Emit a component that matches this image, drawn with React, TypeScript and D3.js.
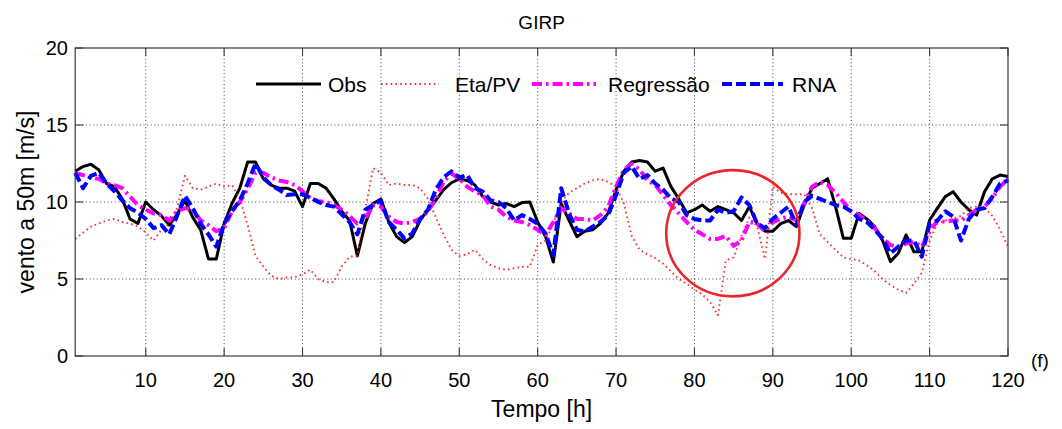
import React from "react";
import * as d3 from "d3";

const hours: number[] = Array.from({ length: 120 }, (_, i) => i + 1);

const obs: number[] = [
  12.0, 12.3, 12.45, 12.1, 11.2, 11.0, 10.2, 8.9, 8.6, 10.0,
  9.5, 9.1, 8.5, 9.2, 10.1, 9.0, 8.2, 6.3, 6.3, 8.6,
  9.9, 10.9, 12.6, 12.6, 11.5, 11.1, 10.9, 10.9, 10.7, 9.7,
  11.2, 11.2, 10.9, 10.2, 9.4, 8.8, 6.5, 8.6, 9.9, 10.2,
  8.7, 7.75, 7.36, 7.75, 8.8, 9.5, 10.1, 10.8, 11.25, 11.5,
  11.4, 11.1, 10.35, 10.0, 9.8, 9.9, 9.7, 9.96, 10.0, 8.7,
  7.75, 6.1, 9.9, 8.8, 7.75, 8.1, 8.2, 8.6, 9.3, 10.8,
  12.0, 12.6, 12.7, 12.6, 12.0, 12.2, 11.0, 10.2, 9.3, 9.5,
  9.8, 9.4, 9.7, 9.5, 9.3, 8.8, 9.7, 8.6, 8.1, 8.1,
  8.6, 8.8, 8.4, 9.8, 10.9, 11.2, 11.5, 9.7, 7.64, 7.64,
  9.26, 8.9, 8.4, 7.5, 6.13, 6.67, 7.86, 6.77, 6.77, 8.83,
  9.6, 10.35, 10.67, 10.0, 9.5, 9.15, 10.67, 11.5, 11.75, 11.65,
];

const etaPV: number[] = [
  7.6, 8.0, 8.4, 8.6, 8.8, 8.9, 8.7, 8.6, 8.4, 8.0,
  7.5, 8.2, 8.6, 9.6, 11.7, 10.9, 10.8, 11.0, 11.2, 11.0,
  11.1, 10.2, 8.5, 6.5, 5.8, 5.2, 5.0, 5.1, 5.1, 5.3,
  5.6, 5.0, 4.8, 4.8, 5.8, 6.45, 6.5, 9.5, 12.2, 11.9,
  11.1, 11.2, 11.1, 11.1, 10.9, 10.2, 9.0, 7.9, 6.9, 6.5,
  6.6, 6.9, 6.3, 5.9, 5.7, 5.6, 5.7, 5.8, 5.8, 7.2,
  7.5, 8.6, 10.0, 10.6, 10.9, 11.2, 11.4, 11.5, 11.3, 11.0,
  9.9, 7.8, 6.9, 6.6, 6.35, 6.0, 5.5, 5.0, 4.7, 4.3,
  4.0, 3.5, 2.66, 6.2, 6.4, 7.8, 9.0, 8.4, 6.3, 11.0,
  10.6, 10.5, 10.5, 10.5, 9.6, 7.9, 7.4, 6.9, 6.4, 6.3,
  6.2, 5.9, 5.5, 5.0, 4.6, 4.3, 4.1, 4.7, 5.4, 7.5,
  8.6, 8.8, 8.9, 9.1, 9.6, 9.7, 9.6, 9.1, 8.2, 7.1,
];

const regressao: number[] = [
  11.86, 11.75, 11.6, 11.5, 11.2, 11.1, 10.9, 10.35, 9.8, 9.5,
  9.26, 9.15, 8.8, 9.4, 9.6, 9.5, 8.8, 8.5, 8.1, 8.3,
  9.4, 10.0, 10.85, 11.9, 11.9, 11.6, 11.4, 11.3, 11.1, 10.7,
  10.24, 10.05, 10.0, 9.8, 9.5, 9.1, 8.6, 8.9, 9.8, 9.7,
  9.05, 8.7, 8.6, 8.7, 8.9, 9.4, 10.24, 11.3, 11.86, 11.5,
  11.0, 10.67, 10.45, 9.7, 9.5, 9.05, 8.8, 8.7, 8.5, 8.2,
  7.86, 8.7, 9.6, 9.26, 8.9, 8.9, 8.8, 9.15, 9.7, 11.0,
  12.1, 12.5, 12.1, 11.4, 11.1, 10.45, 9.8, 9.26, 8.7, 8.2,
  7.9, 7.6, 7.6, 7.8, 7.15, 7.5, 8.7, 8.6, 8.1, 8.7,
  8.9, 9.05, 8.8, 9.9, 11.0, 11.3, 11.1, 10.6, 10.0, 9.4,
  9.15, 8.8, 8.3, 7.64, 7.2, 7.1, 7.3, 7.4, 7.1, 8.07,
  8.8, 8.7, 8.8, 8.8, 9.15, 9.5, 9.7, 10.24, 11.0, 11.5,
];

const rna: number[] = [
  11.9, 10.9, 11.7, 11.9, 11.2, 10.7, 10.1, 9.6, 9.3, 8.9,
  8.3, 8.5, 7.9, 9.1, 10.4, 9.6, 8.6, 7.9, 7.1, 8.6,
  9.4, 10.1, 11.2, 12.5, 11.6, 11.1, 10.8, 10.45, 10.5, 10.5,
  10.3, 10.0, 9.8, 9.7, 9.2, 8.7, 7.9, 9.5, 9.8, 10.1,
  8.7, 8.2, 7.64, 7.96, 8.9, 9.5, 10.8, 11.6, 12.0, 11.6,
  11.75, 10.9, 10.67, 10.1, 10.0, 9.6, 8.8, 9.15, 8.9, 8.6,
  7.96, 6.56, 10.9, 9.26, 8.2, 8.07, 8.4, 8.7, 9.15, 10.45,
  11.9, 12.3, 11.5, 11.75, 11.2, 10.8, 10.24, 10.0, 9.15, 8.9,
  8.8, 8.8, 9.5, 9.3, 9.4, 10.3, 9.8, 8.6, 8.3, 8.9,
  9.3, 9.7, 8.5, 10.0, 10.4, 10.2, 10.0, 9.8, 9.7, 9.4,
  8.9, 8.7, 8.2, 7.64, 6.67, 7.1, 7.5, 7.5, 6.45, 8.6,
  8.8, 9.4, 9.05, 7.5, 8.9, 9.5, 9.6, 10.35, 11.2, 11.4,
];

const xTicks: number[] = [10, 20, 30, 40, 50, 60, 70, 80, 90, 100, 110, 120];
const yTicks: number[] = [0, 5, 10, 15, 20];
const legendLabels: string[] = ["Obs", "Eta/PV", "Regressão", "RNA"];

// highlighted region (hours, m/s)
const circleCenter: number[] = [84.9, 7.97];
const circleRadius: number[] = [8.5, 4.1];

const W = 1062;
const H = 429;
const FONT = "'Liberation Sans', Arial, Helvetica, sans-serif";

export default function App() {
  const x = d3.scaleLinear().domain([1, 120]).range([75.2, 1008]);
  const y = d3.scaleLinear().domain([0, 20]).range([356, 48]);
  const left = x.range()[0];
  const right = x.range()[1];
  const top = y.range()[1];
  const bottom = y.range()[0];

  const line = d3
    .line<number>()
    .x((_, i) => x(hours[i]))
    .y((d) => y(d));

  const series = [
    { data: obs, color: "#000000", width: 3, dash: undefined as string | undefined, opacity: 1 },
    { data: etaPV, color: "#ff1a1a", width: 1.9, dash: "1.6,3.2", opacity: 0.9 },
    { data: regressao, color: "#ff00ff", width: 4, dash: "10,4,2.5,4", opacity: 1 },
    { data: rna, color: "#0000ff", width: 4, dash: "10,4", opacity: 1 },
  ];

  const legendX = [256, 381, 532, 722];
  const legendLineLen = [65, 58, 64, 61];
  const legendTextGap = [7, 16, 12, 9];
  const legendY = 84;

  const tickLen = 8;

  return (
    <svg
      width={W}
      height={H}
      style={{ position: "absolute", left: 0, top: 0, display: "block", background: "#fff" }}
      fontFamily={FONT}
    >
      <rect x={0} y={0} width={W} height={H} fill="#fff" />
      {/* grid */}
      {xTicks
        .filter((t) => t < 120)
        .map((t) => (
          <line
            key={"gx" + t}
            x1={x(t)}
            x2={x(t)}
            y1={top}
            y2={bottom}
            stroke="#000"
            strokeWidth={0.9}
            strokeDasharray="1,2.6"
            opacity={0.8}
          />
        ))}
      {yTicks
        .filter((t) => t > 0 && t < 20)
        .map((t) => (
          <line
            key={"gy" + t}
            x1={left}
            x2={right}
            y1={y(t)}
            y2={y(t)}
            stroke="#000"
            strokeWidth={0.9}
            strokeDasharray="1,2.6"
            opacity={0.8}
          />
        ))}

      {/* series */}
      {series.map((s, i) => (
        <path
          key={"s" + i}
          d={line(s.data) || ""}
          fill="none"
          stroke={s.color}
          strokeWidth={s.width}
          strokeDasharray={s.dash}
          strokeLinejoin="round"
          opacity={s.opacity}
        />
      ))}

      {/* highlight ellipse */}
      <ellipse
        cx={x(circleCenter[0])}
        cy={y(circleCenter[1])}
        rx={x(circleCenter[0] + circleRadius[0]) - x(circleCenter[0])}
        ry={y(circleCenter[1] - circleRadius[1]) - y(circleCenter[1])}
        fill="none"
        stroke="#e8262b"
        strokeWidth={2.6}
      />

      {/* box */}
      <rect
        x={left}
        y={top}
        width={right - left}
        height={bottom - top}
        fill="none"
        stroke="#3a3a3a"
        strokeWidth={1.2}
      />
      {/* ticks */}
      {xTicks.map((t) => (
        <g key={"tx" + t}>
          <line x1={x(t)} x2={x(t)} y1={bottom} y2={bottom - tickLen} stroke="#3a3a3a" strokeWidth={1.1} />
          <line x1={x(t)} x2={x(t)} y1={top} y2={top + tickLen} stroke="#3a3a3a" strokeWidth={1.1} />
          <text x={x(t)} y={387} textAnchor="middle" fontSize={20} fill="#000">
            {t}
          </text>
        </g>
      ))}
      {yTicks.map((t) => (
        <g key={"ty" + t}>
          <line x1={left} x2={left + tickLen} y1={y(t)} y2={y(t)} stroke="#3a3a3a" strokeWidth={1.1} />
          <line x1={right} x2={right - tickLen} y1={y(t)} y2={y(t)} stroke="#3a3a3a" strokeWidth={1.1} />
          <text x={68} y={y(t) + 7} textAnchor="end" fontSize={20} fill="#000">
            {t}
          </text>
        </g>
      ))}

      {/* legend */}
      {legendLabels.map((lab, i) => (
        <g key={"lg" + i}>
          <line
            x1={legendX[i]}
            x2={legendX[i] + legendLineLen[i]}
            y1={legendY}
            y2={legendY}
            stroke={series[i].color}
            strokeWidth={i === 1 ? 2.2 : series[i].width}
            strokeDasharray={series[i].dash}
            opacity={series[i].opacity}
          />
          <text
            x={legendX[i] + legendLineLen[i] + legendTextGap[i]}
            y={legendY + 7.5}
            fontSize={21}
            fill="#000"
          >
            {lab}
          </text>
        </g>
      ))}

      {/* titles */}
      <text x={(left + right) / 2} y={29} textAnchor="middle" fontSize={19} fill="#000">
        GIRP
      </text>
      <text x={(left + right) / 2} y={417} textAnchor="middle" fontSize={23} fill="#000">
        Tempo [h]
      </text>
      <text
        transform={`translate(34,${(top + bottom) / 2}) rotate(-90)`}
        textAnchor="middle"
        fontSize={23}
        fill="#000"
      >
        vento a 50m [m/s]
      </text>
      <text x={1031} y={367} fontSize={19} fill="#000">
        (f)
      </text>
    </svg>
  );
}
